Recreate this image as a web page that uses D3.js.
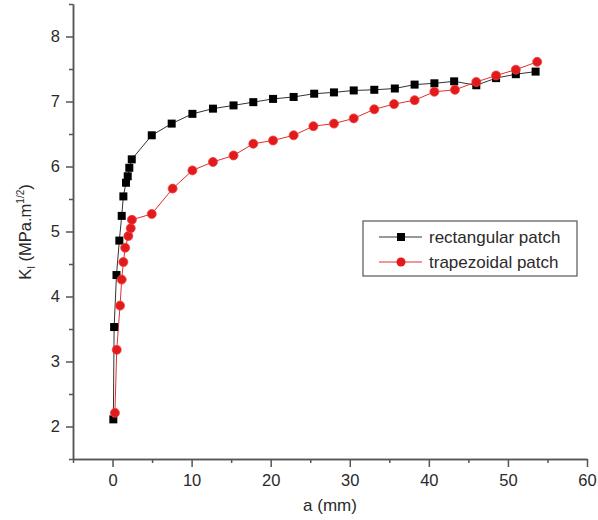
<!DOCTYPE html>
<html><head><meta charset="utf-8">
<script src="https://cdn.jsdelivr.net/npm/d3@7"></script>
<style>body{margin:0;background:#fff;} text{font-family:"Liberation Sans",Arial,sans-serif;}</style>
</head><body>
<svg id="c" width="598" height="520"></svg>
<script>
const rectX = [0.1,0.2,0.5,0.86,1.16,1.37,1.7,1.92,2.12,2.43,4.96,7.48,10.1,12.7,15.3,17.8,20.3,22.9,25.5,28.0,30.5,33.1,35.7,38.2,40.7,43.2,46.0,48.5,51.0,53.5];
const rectY = [2.11,3.53,4.33,4.86,5.24,5.54,5.75,5.85,5.98,6.11,6.48,6.66,6.81,6.89,6.94,6.99,7.04,7.07,7.12,7.14,7.17,7.18,7.20,7.26,7.28,7.31,7.25,7.36,7.42,7.46];
const trapX = [0.3,0.53,0.95,1.16,1.37,1.6,2.0,2.3,2.45,4.96,7.6,10.1,12.7,15.3,17.8,20.3,22.9,25.4,28.0,30.5,33.1,35.6,38.2,40.7,43.3,46.0,48.5,51.0,53.7];
const trapY = [2.21,3.18,3.86,4.26,4.53,4.75,4.93,5.05,5.18,5.27,5.66,5.94,6.07,6.17,6.35,6.40,6.48,6.62,6.66,6.74,6.88,6.96,7.02,7.15,7.18,7.30,7.40,7.49,7.61];
const xTicks = [0,10,20,30,40,50,60];
const xMinor = [-5,5,15,25,35,45,55];
const yTicks = [2,3,4,5,6,7,8];
const yMinor = [1.5,2.5,3.5,4.5,5.5,6.5,7.5,8.5];
const seriesNames = ["rectangular patch","trapezoidal patch"];

const svg = d3.select("#c");
const x = d3.scaleLinear().domain([-5,60]).range([73,587]);
const y = d3.scaleLinear().domain([1.5,8.5]).range([459,4]);
const axisColor = "#555";
const txtColor = "#2a2a2a";

const gx = svg.append("g").attr("transform","translate(0,459)")
  .call(d3.axisBottom(x).tickValues(xTicks).tickSize(8).tickSizeOuter(0).tickFormat(d3.format("d")));
const gxm = svg.append("g").attr("transform","translate(0,459)")
  .call(d3.axisBottom(x).tickValues(xMinor).tickSize(4).tickSizeOuter(0).tickFormat(""));
const gy = svg.append("g").attr("transform","translate(73,0)")
  .call(d3.axisLeft(y).tickValues(yTicks).tickSize(7).tickSizeOuter(0).tickFormat(d3.format("d")));
const gym = svg.append("g").attr("transform","translate(73,0)")
  .call(d3.axisLeft(y).tickValues(yMinor).tickSize(4).tickSizeOuter(0).tickFormat(""));
[gx,gxm,gy,gym].forEach(g=>{
  g.selectAll("path.domain").attr("stroke",axisColor).attr("stroke-width",1.5);
  g.selectAll(".tick line").attr("stroke",axisColor).attr("stroke-width",1.5);
  g.selectAll(".tick text").attr("fill",txtColor).attr("font-size",16.5).attr("font-family","Liberation Sans, Arial, sans-serif");
});
gx.selectAll(".tick text").attr("dy","0.95em");
gy.selectAll(".tick text").attr("dx","-3");

const line = d3.line().x(d=>x(d[0])).y(d=>y(d[1]));
const rectData = rectX.map((v,i)=>[v,rectY[i]]);
const trapData = trapX.map((v,i)=>[v,trapY[i]]);
svg.append("path").datum(rectData).attr("d",line).attr("fill","none").attr("stroke","#333").attr("stroke-width",1);
svg.append("path").datum(trapData).attr("d",line).attr("fill","none").attr("stroke","#e03030").attr("stroke-width",1);
svg.append("g").selectAll("rect").data(rectData).join("rect")
  .attr("x",d=>x(d[0])-4).attr("y",d=>y(d[1])-4).attr("width",8).attr("height",8).attr("fill","#000");
svg.append("g").selectAll("circle").data(trapData).join("circle")
  .attr("cx",d=>x(d[0])).attr("cy",d=>y(d[1])).attr("r",4.5).attr("fill","#e31a1c").attr("stroke","#f04040").attr("stroke-width",0.8);

const yl = svg.append("text").attr("transform","translate(31,232) rotate(-90)")
  .attr("text-anchor","middle").attr("fill",txtColor).attr("font-size",16.5);
yl.append("tspan").text("K");
yl.append("tspan").attr("font-size",10).attr("dy",4).text("I");
yl.append("tspan").attr("dy",-4).text(" (MPa.m");
yl.append("tspan").attr("font-size",10).attr("dy",-7).text("1/2");
yl.append("tspan").attr("dy",7).text(")");
svg.append("text").attr("x",330).attr("y",511).attr("text-anchor","middle")
  .attr("fill",txtColor).attr("font-size",17).text("a (mm)");

svg.append("rect").attr("x",363).attr("y",221).attr("width",214).attr("height",55)
  .attr("fill","#fff").attr("stroke",axisColor).attr("stroke-width",1.2);
const lg = [{name:seriesNames[0],c:"#333",m:"sq"},{name:seriesNames[1],c:"#e03030",m:"ci"}];
lg.forEach((d,i)=>{
  const yy = 237 + i*25;
  svg.append("line").attr("x1",379).attr("x2",422).attr("y1",yy).attr("y2",yy).attr("stroke",d.c).attr("stroke-width",1);
  if(d.m==="sq") svg.append("rect").attr("x",397).attr("y",yy-4).attr("width",8).attr("height",8).attr("fill","#000");
  else svg.append("circle").attr("cx",401).attr("cy",yy).attr("r",4.5).attr("fill","#e31a1c");
  svg.append("text").attr("x",429).attr("y",yy+6).attr("fill",txtColor).attr("font-size",17).text(d.name);
});
</script>
</body></html>
